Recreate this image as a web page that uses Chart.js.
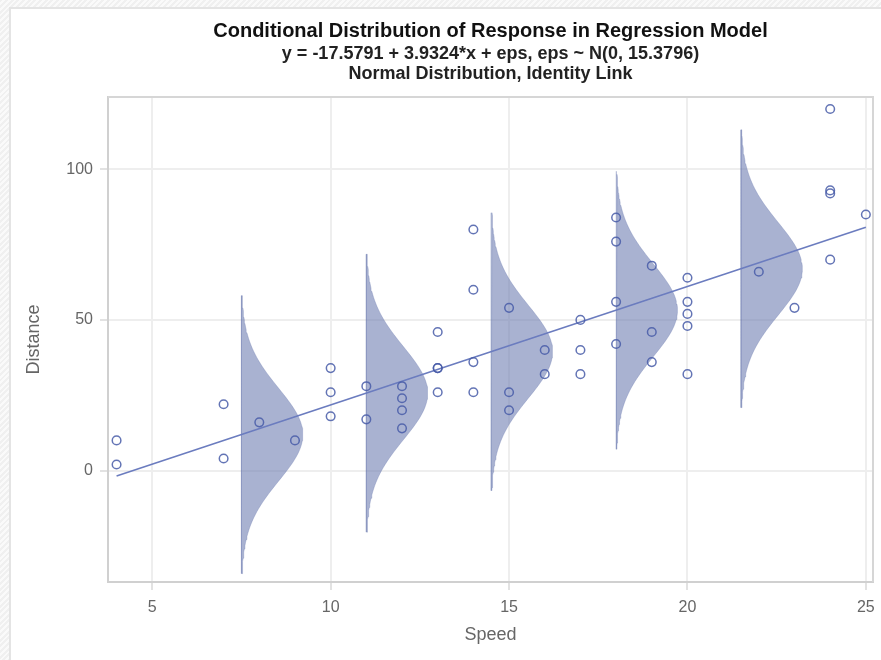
<!DOCTYPE html>
<html><head><meta charset="utf-8">
<script src="https://cdn.jsdelivr.net/npm/chart.js@4.4.1/dist/chart.umd.min.js"></script>
<style>
html,body{margin:0;padding:0;width:881px;height:660px;overflow:hidden;
 background:repeating-linear-gradient(135deg,#f0f0f0 0 2px,#fafafa 2px 4px);}
#frame{position:absolute;left:9px;top:7px;width:900px;height:700px;background:#fff;border-left:2px solid #e4e4e4;border-top:2px solid #e4e4e4;}
#c{position:absolute;left:0;top:0;}
</style></head><body>
<div id="frame"></div>
<canvas id="c" width="881" height="660"></canvas>
<script>
// ---- data (cars: speed vs stopping distance) ----
const speed = [4,4,7,7,8,9,10,10,10,11,11,12,12,12,12,13,13,13,13,14,14,14,14,15,15,15,16,16,17,17,17,18,18,18,18,19,19,19,20,20,20,20,20,22,23,24,24,24,24,25];
const distance = [2,10,4,22,16,10,18,26,34,17,28,14,20,24,28,26,34,34,46,26,36,60,80,20,26,54,32,40,32,40,50,42,56,76,84,36,46,68,32,48,52,56,64,66,54,70,92,93,120,85];
// ---- fitted model (from the title) ----
const intercept = -17.5791;
const slope = 3.9324;
const sigma = 15.3796;
const curveSpeeds = [7.5, 11, 14.5, 18, 21.5];
const lineRange = [4, 25];
// ---- axes ----
const xTicks = [5, 10, 15, 20, 25];
const yTicks = [0, 50, 100];
const titleText = 'Conditional Distribution of Response in Regression Model';
const subtitleLines = ['y = -17.5791 + 3.9324*x + eps, eps ~ N(0, 15.3796)', 'Normal Distribution, Identity Link'];

const FONT = "'Liberation Sans', Arial, sans-serif";
Chart.defaults.font.family = FONT;

const curveWidth = 1.72; // horizontal extent of density peak, in speed units
function densityShape(c) {
  const m = intercept + slope * c;
  const pts = [];
  const N = 90;
  for (let k = 0; k <= N; k++) {
    const z = -3 + 6 * k / N;
    pts.push({x: c + curveWidth * Math.exp(-z * z / 2), y: m + z * sigma});
  }
  pts.push({x: c, y: m + 3 * sigma});
  pts.push({x: c, y: m - 3 * sigma});
  return pts;
}

const datasets = [];
datasets.push({
  type: 'scatter', label: 'Distance', order: 0,
  data: speed.map((s, i) => ({x: s, y: distance[i]})),
  pointStyle: 'circle', pointRadius: 4.3, pointBorderWidth: 1.5,
  pointBackgroundColor: 'rgba(0,0,0,0)', pointBorderColor: 'rgba(72,92,168,0.85)'
});
datasets.push({
  type: 'line', label: 'Fit', order: 1,
  data: lineRange.map(s => ({x: s, y: intercept + slope * s})),
  borderColor: '#6b7cbf', borderWidth: 1.6, pointRadius: 0, fill: false, tension: 0
});
curveSpeeds.forEach((c, i) => {
  datasets.push({
    type: 'line', label: 'Density ' + (i + 1), order: 2,
    data: densityShape(c),
    borderColor: 'rgba(111,126,179,0.35)', borderWidth: 1,
    backgroundColor: 'rgba(111,126,179,0.6)', fill: 'shape',
    pointRadius: 0, tension: 0
  });
});

const plotFrame = {
  id: 'plotFrame',
  beforeDatasetsDraw(chart) {
    const {ctx, chartArea: a} = chart;
    ctx.save();
    ctx.strokeStyle = '#d6d6d6';
    ctx.lineWidth = 2;
    ctx.beginPath();
    ctx.moveTo(a.left, a.top);
    ctx.lineTo(a.right, a.top);
    ctx.lineTo(a.right, a.bottom);
    ctx.stroke();
    ctx.restore();
  }
};

new Chart(document.getElementById('c'), {
  type: 'scatter',
  data: {datasets},
  plugins: [plotFrame],
  options: {
    responsive: false, animation: false,
    layout: {padding: {left: 0, right: 8, top: 0, bottom: 0}},
    plugins: {
      legend: {display: false},
      tooltip: {enabled: false},
      title: {display: true, text: titleText, fullSize: false, color: '#111',
        font: {size: 20, weight: 'bold', lineHeight: 1.2}, padding: {top: 19, bottom: 0}},
      subtitle: {display: true, text: subtitleLines, fullSize: false, color: '#222',
        font: {size: 18, weight: 'bold', lineHeight: 1.111}, padding: {top: 1, bottom: 13}}
    },
    scales: {
      x: {
        type: 'linear', min: 3.76, max: 25.2,
        afterBuildTicks: s => { s.ticks = xTicks.map(v => ({value: v})); },
        afterFit: s => { s.height = 78; s.paddingLeft = 0; s.paddingRight = 0; },
        ticks: {color: '#666', font: {size: 16}, padding: 8},
        grid: {color: '#eeeeee', lineWidth: 2, tickColor: '#d8d8d8', tickLength: 8, tickWidth: 1.5},
        border: {display: true, color: '#d0d0d0', width: 2},
        title: {display: true, text: 'Speed', color: '#666', font: {size: 18}, padding: {bottom: 14}}
      },
      y: {
        type: 'linear', min: -37, max: 124,
        afterBuildTicks: s => { s.ticks = yTicks.map(v => ({value: v})); },
        afterFit: s => { s.width = 108; s.paddingTop = 0; s.paddingBottom = 0; },
        ticks: {color: '#666', font: {size: 16}, padding: 7},
        grid: {color: '#eeeeee', lineWidth: 2, tickColor: '#d8d8d8', tickLength: 8, tickWidth: 1.5},
        border: {display: true, color: '#d0d0d0', width: 2},
        title: {display: true, text: 'Distance', color: '#666', font: {size: 18}, padding: {top: 23}}
      }
    }
  }
});
</script>
</body></html>
